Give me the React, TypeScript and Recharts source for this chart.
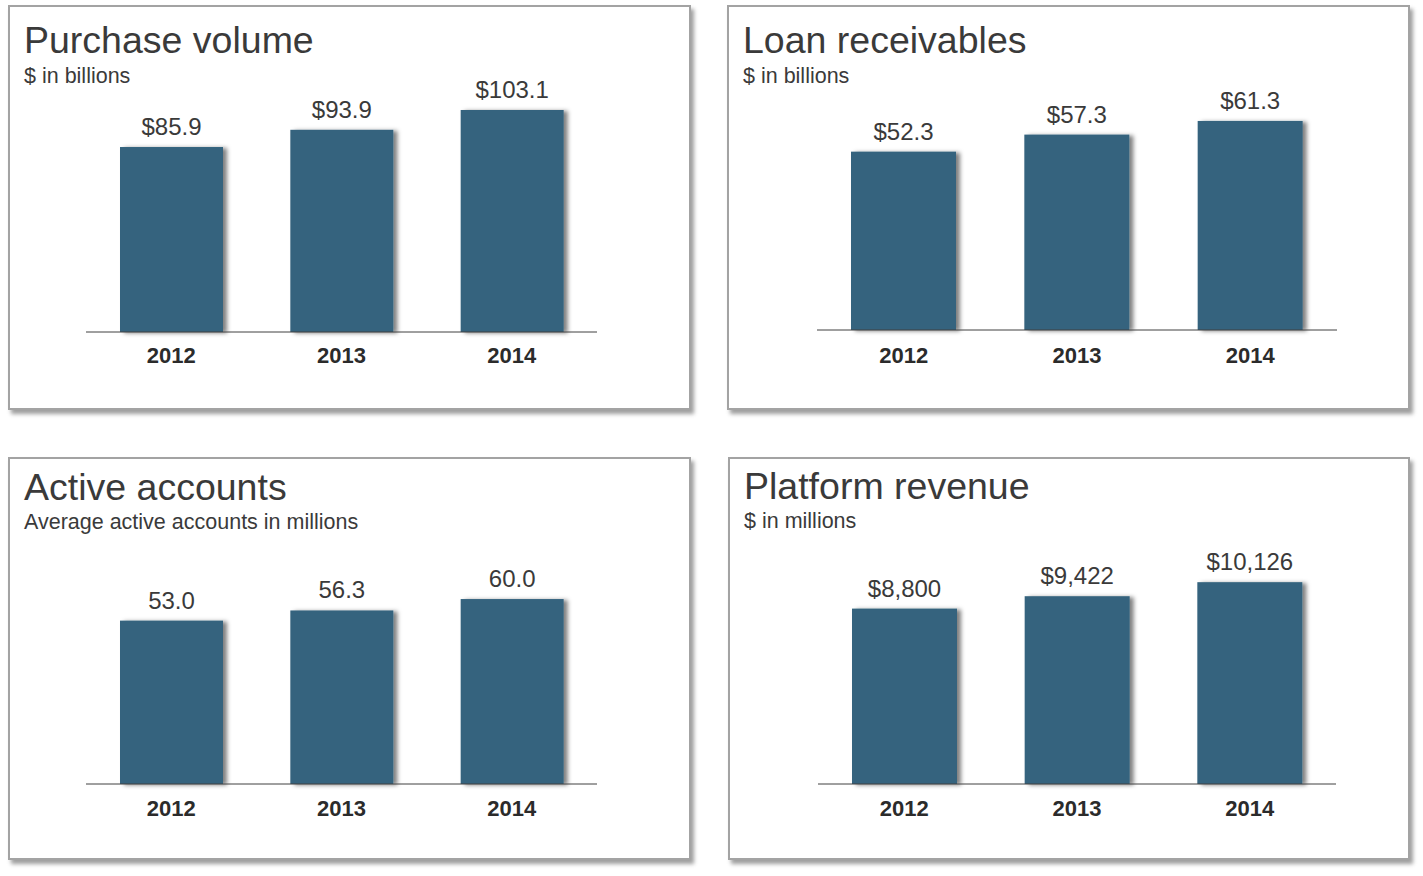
import { Bar, BarChart, LabelList, XAxis, YAxis } from "recharts";

const years = ["2012", "2013", "2014"];
const purchaseVolume = [85.9, 93.9, 103.1];
const loanReceivables = [52.3, 57.3, 61.3];
const activeAccounts = [53.0, 56.3, 60.0];
const platformRevenue = [8800, 9422, 10126];

const BAR = "#34637e";
const TEXT = "#3a3a3a";
const FONT = '"Liberation Sans", Arial, sans-serif';

const dollar1 = (v: number) => `$${v.toFixed(1)}`;
const plain1 = (v: number) => v.toFixed(1);
const dollarInt = (v: number) => `$${v.toLocaleString("en-US")}`;

type PanelProps = {
  x: number;
  y: number;
  w: number;
  h: number;
  title: string;
  subtitle: string;
  titleY: number;
  subtitleY: number;
  values: number[];
  format: (v: number) => string;
  domainMax: number;
  margin: { top: number; right: number; bottom: number; left: number };
  tickMargin: number;
  barSize: number;
};

const barShape = (props: any) => {
  const { x, y, width, height } = props;
  return (
    <rect x={x} y={y} width={width} height={height} fill={BAR} filter="url(#barShadow)" />
  );
};

function Panel(p: PanelProps) {
  const data = years.map((year, i) => ({ year, value: p.values[i] }));
  return (
    <div style={{ position: "absolute", left: p.x, top: p.y, width: p.w, height: p.h }}>
      <div
        style={{
          position: "absolute",
          inset: 0,
          border: "2px solid #a3a3a3",
          boxSizing: "border-box",
          background: "#fff",
          boxShadow: "3px 4px 4px rgba(0,0,0,0.38)",
        }}
      />
      <svg
        width={p.w}
        height={p.h}
        style={{ position: "absolute", left: 0, top: 0, fontFamily: FONT }}
      >
        <text x={16} y={p.titleY} fontSize={37.5} fill={TEXT}>
          {p.title}
        </text>
        <text x={16} y={p.subtitleY} fontSize={21.5} fill={TEXT}>
          {p.subtitle}
        </text>
      </svg>
      <div style={{ position: "absolute", left: 0, top: 0 }}>
        <BarChart width={p.w} height={p.h} data={data} margin={p.margin}>
          <XAxis
            dataKey="year"
            height={40}
            tickSize={0}
            tickMargin={p.tickMargin}
            axisLine={{ stroke: "#404040", strokeWidth: 1 }}
            tick={{ fill: "#2b2b2b", fontSize: 22, fontWeight: 700, fontFamily: FONT }}
          />
          <YAxis hide domain={[0, p.domainMax]} />
          <Bar
            dataKey="value"
            barSize={p.barSize}
            shape={barShape}
            isAnimationActive={false}
          >
            <LabelList
              dataKey="value"
              position="top"
              offset={12}
              formatter={(v: any) => p.format(Number(v))}
              style={{ fill: TEXT, fontSize: 24, fontFamily: FONT }}
            />
          </Bar>
        </BarChart>
      </div>
    </div>
  );
}

export default function App() {
  return (
    <div style={{ position: "absolute", left: 0, top: 0, width: 1423, height: 876, background: "#fff" }}>
      <svg width={0} height={0} style={{ position: "absolute" }}>
        <defs>
          <filter id="barShadow" x="-10%" y="-10%" width="130%" height="120%">
            <feDropShadow dx={4} dy={1} stdDeviation={2} floodColor="#000" floodOpacity={0.5} />
          </filter>
        </defs>
      </svg>
      <Panel
        x={8}
        y={5}
        w={683}
        h={405}
        title="Purchase volume"
        subtitle="$ in billions"
        titleY={48}
        subtitleY={78}
        values={purchaseVolume}
        format={dollar1}
        domainMax={120}
        margin={{ top: 68.6, right: 94, bottom: 38, left: 78 }}
        tickMargin={15}
        barSize={103}
      />
      <Panel
        x={727}
        y={5}
        w={683}
        h={405}
        title="Loan receivables"
        subtitle="$ in billions"
        titleY={48}
        subtitleY={78}
        values={loanReceivables}
        format={dollar1}
        domainMax={75}
        margin={{ top: 69.25, right: 73, bottom: 40, left: 90 }}
        tickMargin={17}
        barSize={105}
      />
      <Panel
        x={8}
        y={457}
        w={683}
        h={403}
        title="Active accounts"
        subtitle="Average active accounts in millions"
        titleY={43}
        subtitleY={72}
        values={activeAccounts}
        format={plain1}
        domainMax={80}
        margin={{ top: 80.4, right: 94, bottom: 36, left: 78 }}
        tickMargin={16}
        barSize={103}
      />
      <Panel
        x={728}
        y={457}
        w={682}
        h={403}
        title="Platform revenue"
        subtitle="$ in millions"
        titleY={42}
        subtitleY={71}
        values={platformRevenue}
        format={dollarInt}
        domainMax={13000}
        margin={{ top: 67.9, right: 74, bottom: 36, left: 90 }}
        tickMargin={16}
        barSize={105}
      />
    </div>
  );
}
